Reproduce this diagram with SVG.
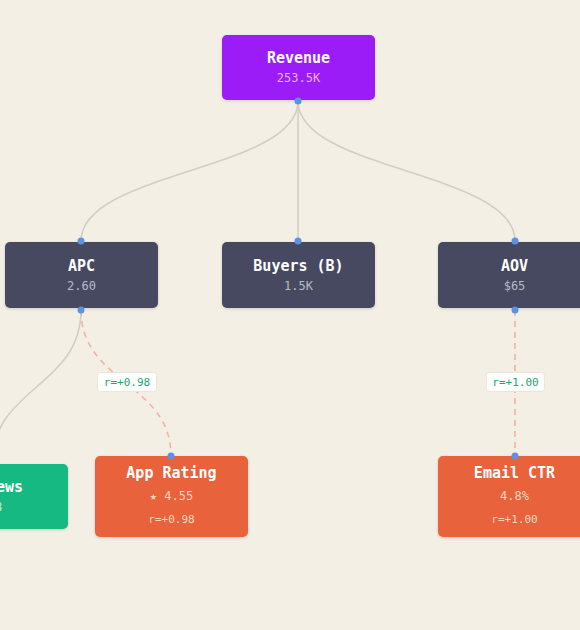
<svg xmlns="http://www.w3.org/2000/svg" width="580" height="630" viewBox="0 0 580 630">
<defs>
<filter id="sh" x="-10%" y="-10%" width="120%" height="130%">
<feDropShadow dx="0" dy="1" stdDeviation="1.5" flood-color="#000" flood-opacity="0.15"/>
</filter>
<style>
text{font-family:"DejaVu Sans Mono","Liberation Mono",monospace;text-anchor:middle}
.t{font-size:15px;font-weight:bold;fill:#ffffff}
.v{font-size:12px}
.edge{fill:none;stroke:#d3cec3;stroke-width:1.6}
.corr{fill:none;stroke:#f2b3a2;stroke-width:1.6;stroke-dasharray:6 5}
.dot{fill:#5b93e0}
.lbl{fill:#ffffff;stroke:#e6e1d6;stroke-width:0.8}
.lt{font-size:11px;fill:#27a372}
</style>
</defs>
<rect width="580" height="630" fill="#f4efe4"/>
<g id="connectors">
<path class="edge" d="M298,101 C298,171 81,171 81,241"/>
<path class="edge" d="M298,101 L298,241"/>
<path class="edge" d="M298,101 C298,171 515,171 515,241"/>
<path class="edge" d="M81,310 C81,387 -8,387 -8,464"/>
<path class="corr" d="M81,310 C81,383 171,383 171,456"/>
<path class="corr" d="M515,310 L515,456"/>
<rect class="lbl" x="97.500" y="372.500" width="59" height="19" rx="3"/>
<text class="lt" x="127" y="386">r=+0.98</text>
<rect class="lbl" x="486.500" y="372.500" width="58" height="19" rx="3"/>
<text class="lt" x="515.500" y="386">r=+1.00</text>
</g>
<g id="revenue">
<rect x="222" y="35" width="153" height="65" rx="5" fill="#9b1af7" filter="url(#sh)"/>
<text class="t" x="298.500" y="63">Revenue</text>
<text class="v" x="298.500" y="82" fill="#e6b3ff">253.5K</text>
</g>
<g id="apc">
<rect x="5" y="242" width="153" height="66" rx="5" fill="#474860" filter="url(#sh)"/>
<text class="t" x="81.500" y="271">APC</text>
<text class="v" x="81.500" y="290" fill="#b9b9c8">2.60</text>
</g>
<g id="buyers">
<rect x="222" y="242" width="153" height="66" rx="5" fill="#474860" filter="url(#sh)"/>
<text class="t" x="298.500" y="271">Buyers (B)</text>
<text class="v" x="298.500" y="290" fill="#b9b9c8">1.5K</text>
</g>
<g id="aov">
<rect x="438" y="242" width="153" height="66" rx="5" fill="#474860" filter="url(#sh)"/>
<text class="t" x="514.500" y="271">AOV</text>
<text class="v" x="514.500" y="290" fill="#b9b9c8">$65</text>
</g>
<g id="reviews">
<rect x="-85" y="464" width="153" height="65" rx="5" fill="#12b981" filter="url(#sh)"/>
<text class="t" x="-8.500" y="492">Reviews</text>
<text class="v" x="-8.500" y="511" fill="#c4f0dc">3.8</text>
</g>
<g id="app-rating">
<rect x="95" y="456" width="153" height="81" rx="5" fill="#e8633a" filter="url(#sh)"/>
<text class="t" x="171.500" y="478">App Rating</text>
<text class="v" x="171.500" y="500" fill="#ffd4c4">★ 4.55</text>
<text class="v" x="171.500" y="523" fill="#ffd4c4" style="font-size:11px">r=+0.98</text>
</g>
<g id="email-ctr">
<rect x="438" y="456" width="153" height="81" rx="5" fill="#e8633a" filter="url(#sh)"/>
<text class="t" x="514.500" y="478">Email CTR</text>
<text class="v" x="514.500" y="500" fill="#ffd4c4">4.8%</text>
<text class="v" x="514.500" y="523" fill="#ffd4c4" style="font-size:11px">r=+1.00</text>
</g>
<g id="ports">
<circle class="dot" cx="298" cy="101" r="3.5"/>
<circle class="dot" cx="81" cy="241" r="3.5"/>
<circle class="dot" cx="298" cy="241" r="3.5"/>
<circle class="dot" cx="515" cy="241" r="3.5"/>
<circle class="dot" cx="81" cy="310" r="3.5"/>
<circle class="dot" cx="515" cy="310" r="3.5"/>
<circle class="dot" cx="171" cy="456" r="3.5"/>
<circle class="dot" cx="515" cy="456" r="3.5"/>
</g>
</svg>
